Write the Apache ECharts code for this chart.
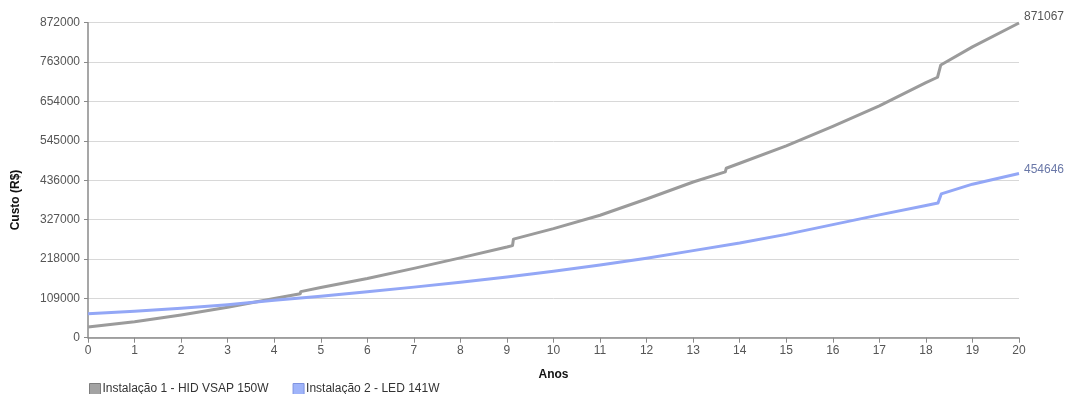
<!DOCTYPE html>
<html>
<head>
<meta charset="utf-8">
<script src="https://cdn.jsdelivr.net/npm/echarts@6/dist/echarts.min.js"></script>
<style>
html,body{margin:0;padding:0;background:#fff;}
#c{width:1068px;height:394px;}
</style>
</head>
<body>
<div id="c"></div>
<script>
// Series 1: Instalação 1 - HID VSAP 150W (years, cost)
const grayYears = [0, 1, 2, 3, 4, 4.56, 4.57, 5, 6, 7, 8, 9, 9.12, 9.14, 10, 11, 12, 13, 13.69, 13.71, 14, 15, 16, 17, 18, 18.25, 18.32, 19, 20];
const grayCost  = [29600, 44300, 62800, 84100, 108500, 121500, 127500, 139000, 164000, 192000, 221000, 251000, 255000, 273000, 302000, 339000, 384000, 431000, 459000, 469000, 483000, 531000, 585000, 642000, 706000, 721000, 755000, 805000, 871067];
// Series 2: Instalação 2 - LED 141W (years, cost)
const blueYears = [0, 1, 2, 3, 4, 5, 6, 7, 8, 9, 10, 11, 12, 13, 14, 15, 16, 17, 18, 18.26, 18.33, 19, 20];
const blueCost  = [66500, 73000, 81500, 91500, 103500, 114500, 127000, 140000, 153500, 168000, 184000, 201000, 220000, 241000, 262000, 286000, 313000, 340000, 366000, 373000, 398000, 425000, 454646];
// Axis ticks
const yTicks = [0, 109000, 218000, 327000, 436000, 545000, 654000, 763000, 872000];
const xTicks = [0, 1, 2, 3, 4, 5, 6, 7, 8, 9, 10, 11, 12, 13, 14, 15, 16, 17, 18, 19, 20];
const seriesNames = ['Instalação 1 - HID VSAP 150W', 'Instalação 2 - LED 141W'];

const pairs = (xs, ys) => xs.map((x, i) => [x, ys[i]]);
const FONT = '"Liberation Sans", Arial, sans-serif';
const grayC = '#9b9b9b';
const blueC = '#93a7f6';

const chart = echarts.init(document.getElementById('c'), null, {renderer: 'canvas'});
chart.setOption({
  animation: false,
  backgroundColor: '#ffffff',
  textStyle: {fontFamily: FONT},
  grid: {left: 88, right: 49, top: 22.7, bottom: 56.3, containLabel: false},
  legend: {
    left: 84, bottom: -6, itemWidth: 11, itemHeight: 11, itemGap: 24,
    icon: 'rect',
    textStyle: {fontFamily: FONT, fontSize: 12, color: '#333', padding: [0, 0, 0, -3]},
    data: [
      {name: seriesNames[0], itemStyle: {color: '#a3a3a3', borderColor: '#7d7d7d', borderWidth: 1}},
      {name: seriesNames[1], itemStyle: {color: '#9fb4fa', borderColor: '#7f93e0', borderWidth: 1}}
    ]
  },
  xAxis: {
    type: 'value', min: xTicks[0], max: xTicks[xTicks.length - 1], interval: 1,
    name: 'Anos', nameLocation: 'middle', nameGap: 31,
    nameTextStyle: {fontFamily: FONT, fontSize: 12, fontWeight: 'bold', color: '#111'},
    axisLine: {show: true, lineStyle: {color: '#8a8a8a', width: 1.5}},
    axisTick: {show: true, length: 5, lineStyle: {color: '#8a8a8a'}},
    axisLabel: {color: '#555', fontSize: 12, margin: 7, fontFamily: FONT},
    splitLine: {show: false}
  },
  yAxis: {
    type: 'value', min: yTicks[0], max: yTicks[yTicks.length - 1], interval: 109000,
    axisLine: {show: true, lineStyle: {color: '#8a8a8a', width: 1.5}},
    axisTick: {show: true, length: 4, lineStyle: {color: '#8a8a8a'}},
    axisLabel: {color: '#555', fontSize: 12, margin: 8, fontFamily: FONT, formatter: v => String(v)},
    splitLine: {show: true, lineStyle: {color: '#d8d8d8', width: 1}}
  },
  graphic: [{
    type: 'text', x: 16, y: 200, rotation: Math.PI / 2,
    style: {text: 'Custo (R$)', font: 'bold 12px ' + FONT, fill: '#111', align: 'center', verticalAlign: 'middle'}
  }],
  series: [
    {
      name: seriesNames[0], type: 'line', data: pairs(grayYears, grayCost),
      showSymbol: false, smooth: false, clip: false,
      lineStyle: {color: grayC, width: 3, join: 'round'},
      itemStyle: {color: grayC},
      endLabel: {show: true, formatter: p => String(p.value[1]), color: '#555', fontSize: 12, fontFamily: FONT, offset: [0, -6], distance: 5}
    },
    {
      name: seriesNames[1], type: 'line', data: pairs(blueYears, blueCost),
      showSymbol: false, smooth: false, clip: false,
      lineStyle: {color: blueC, width: 3, join: 'round'},
      itemStyle: {color: blueC},
      endLabel: {show: true, formatter: p => String(p.value[1]), color: '#6a78a8', fontSize: 12, fontFamily: FONT, offset: [0, -4], distance: 5}
    }
  ]
});
</script>
</body>
</html>
